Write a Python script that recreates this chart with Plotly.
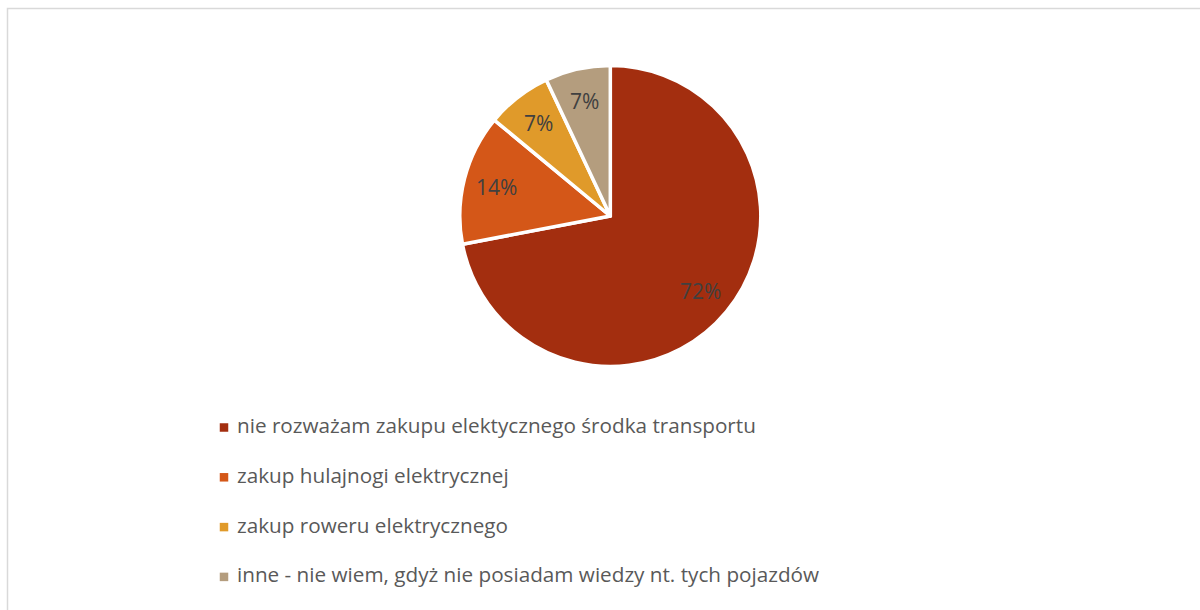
import math
import plotly.graph_objects as go

categories = [
    "nie rozważam zakupu elektycznego środka transportu",
    "zakup hulajnogi elektrycznej",
    "zakup roweru elektrycznego",
    "inne - nie wiem, gdyż nie posiadam wiedzy nt. tych pojazdów",
]
values = [72, 14, 7, 7]
colors = ["#A32E0F", "#D45718", "#E09A2A", "#B49D7E"]

W, H = 1200, 610
cx, cy, r = 610.3, 216, 150.5
FONT = "Open Sans"

fig = go.Figure()
fig.add_trace(go.Pie(
    labels=categories, values=values, sort=False, direction="clockwise", rotation=0,
    marker=dict(colors=colors, line=dict(color="white", width=3.5)),
    textinfo="none",
    showlegend=False, hoverinfo="label+percent",
    domain=dict(x=[(cx - r) / W, (cx + r) / W], y=[(H - cy - r) / H, (H - cy + r) / H]),
))

# data labels placed along each slice's mid-angle (Excel style)
annotations = []
total = sum(values)
cum = 0
for v in values:
    mid = (cum + v / 2) / total * 2 * math.pi
    cum += v
    lx = cx + 0.78 * r * math.sin(mid)
    ly = cy - 0.78 * r * math.cos(mid)
    annotations.append(dict(
        x=lx, y=ly, xref="x", yref="y", text=f"{round(100 * v / total)}%",
        showarrow=False, xanchor="center", yanchor="middle",
        font=dict(family=FONT, size=21, color="#404040"),
    ))

# custom legend
ly0, lgap = 427.5, 49.8
mx = 224
ys = [ly0 + i * lgap for i in range(len(categories))]
fig.add_trace(go.Scatter(
    x=[mx] * len(categories), y=ys, mode="markers",
    marker=dict(symbol="square", size=8.5, color=colors, line=dict(width=0)),
    showlegend=False, hoverinfo="skip", xaxis="x", yaxis="y",
))
for yv, cat in zip(ys, categories):
    annotations.append(dict(
        x=235, y=yv - 2.5, xref="x", yref="y", text=cat, showarrow=False,
        xanchor="left", yanchor="middle",
        font=dict(family=FONT, size=20.7, color="#595959"),
    ))

fig.update_layout(
    width=W, height=H, margin=dict(l=0, r=0, t=0, b=0),
    paper_bgcolor="white", plot_bgcolor="rgba(0,0,0,0)",
    xaxis=dict(range=[0, W], visible=False, fixedrange=True),
    yaxis=dict(range=[H, 0], visible=False, fixedrange=True),
    annotations=annotations,
    shapes=[dict(type="rect", xref="paper", yref="paper",
                 x0=7.5 / W, x1=1.01, y0=-0.01, y1=(H - 8.5) / H,
                 line=dict(color="#D9D9D9", width=1.5), fillcolor="rgba(0,0,0,0)", layer="below")],
)

fig.write_html("out.html", config={"displayModeBar": False},
               post_script="document.body.style.margin='0';document.body.style.overflow='hidden';")
